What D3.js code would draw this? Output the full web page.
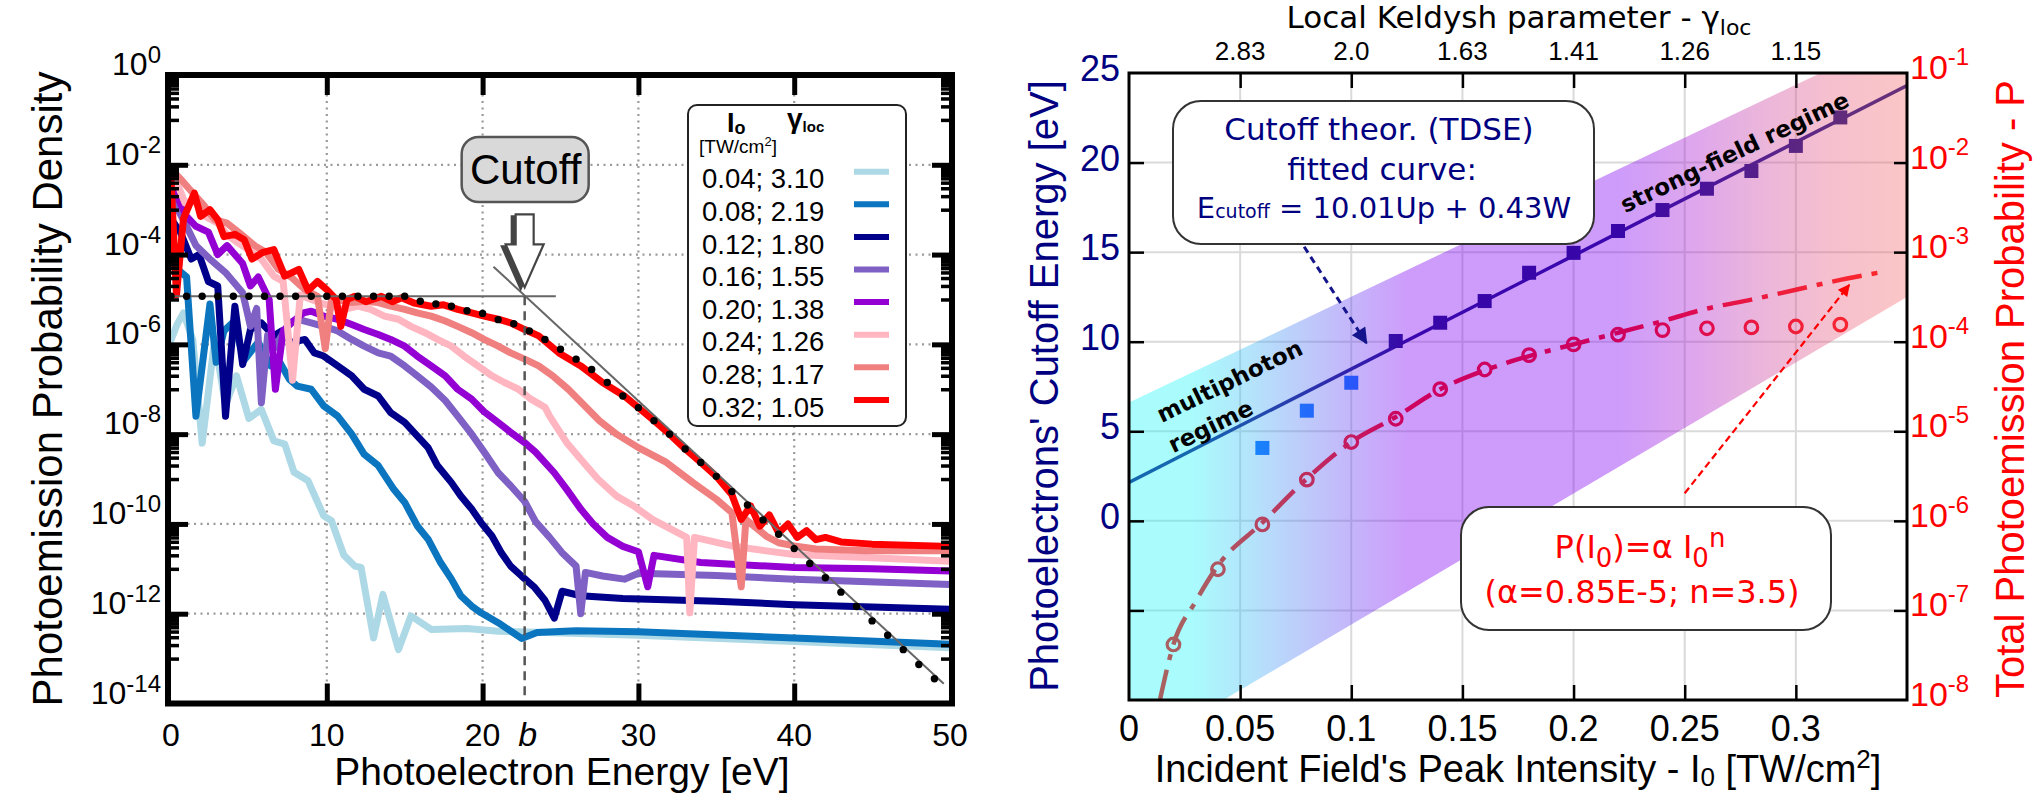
<!DOCTYPE html>
<html><head><meta charset="utf-8">
<script src="https://cdn.jsdelivr.net/npm/d3@7"></script>
<style>html,body{margin:0;padding:0;background:#fff;overflow:hidden}</style>
</head><body>
<svg id="chart" width="2036" height="795" xmlns="http://www.w3.org/2000/svg"></svg>
<script>
// ================= DATA : left panel =================
const energyTicks = [0, 10, 20, 30, 40, 50];
const densityExponents = [0, -2, -4, -6, -8, -10, -12, -14];
const legendIntensity = ["0.04", "0.08", "0.12", "0.16", "0.20", "0.24", "0.28", "0.32"];
const legendGamma = ["3.10", "2.19", "1.80", "1.55", "1.38", "1.26", "1.17", "1.05"];
// spectra : [photoelectron energy (eV), log10 probability density]
const spec004 = [[0,-5.9],[0.4,-5.55],[0.8,-5.3],[1.4,-5.9],[2.0,-8.2],[2.8,-5.9],[3.5,-7.35],[4.2,-6.7],[5.0,-7.65],[5.8,-7.45],[6.6,-8.15],[7.3,-8.22],[7.9,-8.85],[8.8,-9.04],[9.8,-9.82],[10.3,-9.93],[11.1,-10.7],[11.8,-10.94],[12.2,-10.97],[13.0,-12.54],[13.6,-11.57],[14.6,-12.8],[15.4,-12.05],[16.7,-12.35],[19,-12.33],[21,-12.39],[24,-12.42],[30,-12.48],[40,-12.62],[50,-12.76]];
const spec008 = [[0,-4.0],[0.5,-4.35],[1.0,-4.5],[1.6,-7.6],[2.5,-5.1],[2.9,-6.4],[3.4,-5.7],[4.0,-5.5],[4.7,-6.35],[5.6,-5.95],[6.4,-6.48],[7.0,-6.41],[7.6,-6.78],[8.1,-6.93],[9.0,-7.0],[9.8,-7.37],[10.7,-7.6],[11.6,-8.0],[12.4,-8.45],[13.3,-8.7],[14.3,-9.23],[15.0,-9.52],[15.8,-10.04],[16.5,-10.34],[17.3,-10.86],[18.0,-11.23],[18.6,-11.6],[19.3,-11.83],[19.9,-11.98],[21,-12.2],[22.5,-12.55],[23.5,-12.42],[26,-12.38],[30,-12.4],[40,-12.54],[50,-12.68]];
const spec012 = [[0,-3.2],[0.6,-3.5],[1.3,-4.1],[1.8,-4.0],[2.4,-4.6],[3.0,-4.7],[3.5,-7.6],[4.1,-5.15],[4.6,-6.45],[5.1,-5.67],[5.8,-5.52],[6.6,-5.81],[7.1,-5.7],[7.7,-5.96],[8.6,-5.89],[9.2,-6.19],[9.8,-6.26],[10.7,-6.48],[11.6,-6.7],[12.4,-7.0],[13.3,-7.15],[14.1,-7.52],[15,-7.74],[15.8,-8.04],[16.5,-8.3],[17.1,-8.7],[18,-9.08],[18.6,-9.38],[19.3,-9.67],[19.9,-9.97],[20.6,-10.27],[21.2,-10.64],[21.8,-10.94],[22.5,-11.16],[23.3,-11.4],[24,-11.7],[24.6,-12.1],[25.1,-11.5],[26.3,-11.6],[29,-11.66],[35,-11.72],[40,-11.8],[50,-11.9]];
const spec016 = [[0,-2.7],[0.9,-3.3],[1.6,-3.8],[2.5,-4.1],[3.5,-4.4],[4.6,-4.85],[5.1,-5.6],[5.5,-5.2],[5.8,-7.3],[6.2,-5.8],[6.6,-6.1],[7.6,-5.52],[8.1,-5.44],[9.0,-5.52],[9.8,-5.6],[10.7,-5.7],[11.6,-5.89],[12.4,-6.04],[13.3,-6.19],[14.1,-6.26],[15,-6.48],[15.8,-6.7],[16.7,-6.95],[17.6,-7.25],[18.4,-7.6],[19.3,-8.0],[20.1,-8.4],[21,-8.86],[21.8,-9.15],[22.7,-9.5],[23.4,-9.95],[24.3,-10.3],[25.1,-10.64],[26,-10.94],[26.3,-12.0],[26.6,-11.08],[27.7,-11.16],[29.1,-11.23],[30,-11.1],[35,-11.15],[40,-11.23],[50,-11.35]];
const spec020 = [[0,-2.4],[1.0,-3.15],[1.6,-3.37],[2.4,-3.5],[3.0,-4.0],[3.6,-3.8],[4.6,-4.2],[5.1,-4.7],[5.6,-4.5],[6.3,-5.0],[6.7,-7.0],[7.2,-5.7],[7.8,-5.5],[8.5,-5.3],[9.0,-5.26],[9.8,-5.37],[10.7,-5.44],[11.6,-5.56],[12.4,-5.67],[13.3,-5.78],[14.1,-5.89],[15,-6.04],[15.8,-6.26],[16.7,-6.48],[17.6,-6.7],[18.4,-7.0],[19.3,-7.22],[20.1,-7.5],[21,-7.74],[21.8,-7.96],[22.7,-8.19],[23.4,-8.4],[24.6,-8.86],[25.4,-9.23],[26.3,-9.67],[27.1,-10.0],[28,-10.3],[29,-10.5],[30,-10.62],[30.6,-11.4],[31,-10.7],[34,-10.86],[36,-10.9],[40,-10.97],[45,-11.0],[50,-11.05]];
const spec024 = [[0,-2.2],[0.5,-2.5],[0.9,-2.85],[1.5,-2.8],[2.2,-3.15],[3.0,-3.3],[3.6,-3.55],[4.3,-3.74],[5.0,-3.9],[5.8,-4.1],[6.6,-4.48],[7.2,-4.6],[7.8,-6.8],[8.3,-4.9],[9.0,-5.0],[9.8,-5.1],[10.3,-5.15],[11.1,-5.22],[12,-5.15],[12.8,-5.22],[13.7,-5.37],[14.6,-5.44],[15.4,-5.6],[16.3,-5.74],[17.1,-5.89],[18,-6.04],[18.8,-6.26],[19.7,-6.48],[20.6,-6.7],[21.4,-6.85],[22.3,-7.0],[23.1,-7.22],[24,-7.4],[24.3,-7.6],[25.4,-8.19],[26.3,-8.56],[27.4,-9.0],[28.6,-9.38],[29.7,-9.6],[30.9,-9.9],[32,-10.1],[33.1,-10.3],[33.3,-11.98],[33.6,-10.3],[36,-10.49],[38.2,-10.6],[40,-10.68],[44.6,-10.75],[50,-10.83]];
const spec028 = [[0,-2.1],[0.7,-2.35],[1.4,-2.63],[2.1,-2.9],[2.8,-3.22],[3.6,-3.3],[4.4,-3.52],[5.4,-3.81],[6.1,-3.95],[6.9,-4.33],[7.7,-4.5],[8.6,-4.78],[9.4,-4.93],[9.9,-6.1],[10.3,-5.0],[10.7,-5.0],[11.6,-5.07],[12.4,-5.04],[13.3,-5.07],[14.1,-5.15],[15,-5.22],[15.8,-5.3],[16.7,-5.37],[17.6,-5.48],[18.4,-5.6],[19.3,-5.74],[20.1,-5.89],[21,-6.04],[21.8,-6.19],[22.7,-6.33],[23.6,-6.48],[24.5,-6.7],[25.5,-7.0],[26.5,-7.35],[27.5,-7.7],[28.6,-8.0],[30,-8.3],[31.8,-8.63],[33.5,-9.08],[35,-9.45],[36,-9.75],[36.6,-11.4],[36.9,-9.9],[38.2,-10.27],[39,-10.42],[40,-10.49],[41.4,-10.56],[44.6,-10.6],[50,-10.6]];
const spec032 = [[0,-2.3],[0.35,-4.9],[0.8,-3.2],[1.5,-2.63],[1.9,-3.15],[2.5,-3.0],[3.0,-3.22],[3.4,-3.6],[4.1,-3.55],[4.7,-3.67],[5.2,-4.1],[5.9,-3.95],[6.6,-3.89],[7.3,-4.48],[8.2,-4.33],[8.8,-4.8],[9.4,-4.6],[10.0,-4.78],[10.6,-5.0],[10.9,-5.6],[11.3,-5.0],[11.8,-4.93],[12.5,-5.05],[13.5,-4.93],[14.2,-5.05],[14.8,-4.96],[15.6,-5.08],[16.7,-5.15],[17.5,-5.12],[18.4,-5.22],[19.3,-5.3],[20.1,-5.37],[21,-5.44],[21.8,-5.52],[22.7,-5.67],[23.6,-5.81],[24.9,-6.19],[26.3,-6.48],[27.7,-6.85],[29.1,-7.15],[30,-7.41],[31,-7.7],[32,-8.0],[33,-8.33],[34,-8.63],[35,-8.94],[36,-9.35],[36.6,-9.9],[37.2,-9.6],[37.8,-10.05],[38.4,-9.8],[39,-10.2],[39.6,-10.0],[40.2,-10.3],[40.8,-10.15],[41.4,-10.35],[42,-10.3],[43,-10.4],[45,-10.45],[50,-10.5]];
const spectra = [spec004, spec008, spec012, spec016, spec020, spec024, spec028, spec032];
// black dotted fit
const cutoffDotsE = [0,1,2,3,4,5,6,7,8,9,10,11,12,13,14,15,16,17,18,19,20,21,22,23,24,25,26,27,28,29,30,31,32,33,34,35,36,37,38,39,40,41,42,43,44,45,46,47,48,49];
const cutoffDotsLog = [-4.93,-4.93,-4.93,-4.93,-4.93,-4.93,-4.93,-4.93,-4.93,-4.93,-4.93,-4.93,-4.93,-4.93,-4.93,-4.93,-5.04,-5.1,-5.15,-5.25,-5.31,-5.45,-5.54,-5.7,-5.89,-6.11,-6.33,-6.56,-6.85,-7.15,-7.41,-7.7,-8.0,-8.33,-8.63,-8.94,-9.28,-9.58,-9.91,-10.23,-10.55,-10.88,-11.2,-11.52,-11.84,-12.16,-12.48,-12.8,-13.13,-13.45];
const plateauE = [0, 24.7], plateauLog = [-4.93, -4.93];
const slopeE = [20.7, 49.6], slopeLog = [-4.27, -13.56];
const cutoffB = 22.7;

// ================= DATA : right panel =================
const intensityTicks = [0, 0.05, 0.1, 0.15, 0.2, 0.25, 0.3];
const intensityLabels = ["0", "0.05", "0.1", "0.15", "0.2", "0.25", "0.3"];
const keldyshTicks = [0.05, 0.1, 0.15, 0.2, 0.25, 0.3];
const keldyshLabels = ["2.83", "2.0", "1.63", "1.41", "1.26", "1.15"];
const cutoffEnergyTicks = [25, 20, 15, 10, 5, 0];
const probabilityExponents = [-1, -2, -3, -4, -5, -6, -7, -8];
const tdseI = [0.12, 0.14, 0.16, 0.18, 0.20, 0.22, 0.24, 0.26, 0.28, 0.30, 0.32];
const tdseE = [10.04, 11.06, 12.27, 13.85, 14.96, 16.18, 17.35, 18.54, 19.53, 20.93, 22.52];
const earlyI = [0.06, 0.08, 0.10];
const earlyE = [4.07, 6.15, 7.71];
const fitLineI = [0, 0.35], fitLineE = [2.15, 24.3];
const probI = [0.02, 0.04, 0.06, 0.08, 0.10, 0.12, 0.14, 0.16, 0.18, 0.20, 0.22, 0.24, 0.26, 0.28, 0.30, 0.32];
const probLog = [-7.38, -6.54, -6.04, -5.54, -5.12, -4.86, -4.53, -4.31, -4.15, -4.03, -3.92, -3.87, -3.85, -3.84, -3.83, -3.81];
const probFitI = [0.014, 0.02, 0.03, 0.04, 0.06, 0.08, 0.10, 0.12, 0.14, 0.16, 0.18, 0.20, 0.22, 0.24, 0.26, 0.28, 0.30, 0.32, 0.337];
const probFitLog = [-7.99, -7.38, -6.9, -6.5, -6.02, -5.53, -5.12, -4.84, -4.53, -4.32, -4.16, -4.03, -3.9, -3.77, -3.63, -3.53, -3.42, -3.31, -3.23];
const bandI = [0, 0.35], bandUpperE = [6.6, 27.3], bandLowerE = [-13.1, 12.5];
const cutoffArrowI = [0.0788, 0.1068], cutoffArrowE = [15.3, 9.93];
const probArrowI = [0.25, 0.324], probArrowE = [1.54, 13.17];

// ================= STYLE =================
const specColors = ["#add8e6", "#0b76bf", "#00008b", "#7f60c4", "#9400d3", "#ffb6c1", "#f08080", "#ff0000"];
const FA = "'Liberation Sans', Arial, sans-serif";
const FD = "'DejaVu Sans', sans-serif";
const NAVY = "#000080", RED = "#ff0000";

const svg = d3.select("#chart");
const defs = svg.append("defs");

function supText(parent, x, y, base, sup, o) {
  const t = parent.append("text").attr("x", x).attr("y", y)
    .attr("font-family", o.font || FA).attr("font-size", o.size)
    .attr("fill", o.color || "#000").attr("text-anchor", o.anchor || "start");
  t.append("tspan").text(base);
  t.append("tspan").attr("dy", -o.raise).attr("font-size", o.supSize).text(sup);
  return t;
}

// ================= LEFT PANEL =================
const xL = d3.scaleLinear().domain([0, 50]).range([171, 950]);
const yL = d3.scaleLog().domain([1e-14, 1]).range([703.5, 75]);
const p10 = v => Math.pow(10, v);
const gL = svg.append("g");
defs.append("clipPath").attr("id", "clipL").append("rect")
  .attr("x", 168).attr("y", 75).attr("width", 784).attr("height", 628.5);

gL.selectAll("line.gx").data([10, 20, 30, 40]).join("line").attr("class", "gx")
  .attr("x1", d => xL(d)).attr("x2", d => xL(d)).attr("y1", 75).attr("y2", 703.5)
  .attr("stroke", "#9a9a9a").attr("stroke-width", 2.2).attr("stroke-dasharray", "2,4.5");
gL.selectAll("line.gy").data([-2, -4, -6, -8, -10, -12]).join("line").attr("class", "gy")
  .attr("x1", 168).attr("x2", 952).attr("y1", d => yL(p10(d))).attr("y2", d => yL(p10(d)))
  .attr("stroke", "#9a9a9a").attr("stroke-width", 2.2).attr("stroke-dasharray", "2,4.5");

const lineL = d3.line().x(d => xL(d[0])).y(d => yL(p10(d[1])));
const gCurves = gL.append("g").attr("clip-path", "url(#clipL)");
spectra.forEach((s, i) => {
  gCurves.append("path").attr("d", lineL(s)).attr("fill", "none")
    .attr("stroke", specColors[i]).attr("stroke-width", 7)
    .attr("stroke-linejoin", "round").attr("stroke-linecap", "round");
});

gL.append("path").attr("d", lineL(d3.zip(plateauE, plateauLog)))
  .attr("stroke", "#666").attr("stroke-width", 2).attr("fill", "none");
gL.append("path").attr("d", lineL(d3.zip(slopeE, slopeLog)))
  .attr("stroke", "#666").attr("stroke-width", 2).attr("fill", "none");
gL.append("line").attr("x1", xL(cutoffB)).attr("x2", xL(cutoffB))
  .attr("y1", yL(p10(plateauLog[0]))).attr("y2", 703.5)
  .attr("stroke", "#555").attr("stroke-width", 2.5).attr("stroke-dasharray", "9,6");
gL.selectAll("circle.dot").data(d3.zip(cutoffDotsE, cutoffDotsLog)).join("circle").attr("class", "dot")
  .attr("cx", d => xL(d[0])).attr("cy", d => yL(p10(d[1]))).attr("r", 3.7).attr("fill", "#000");

gL.append("rect").attr("x", 168).attr("y", 75).attr("width", 784).attr("height", 628.5)
  .attr("fill", "none").attr("stroke", "#000").attr("stroke-width", 6);

function styleAxis(g, w) {
  g.select(".domain").remove();
  g.selectAll(".tick line").attr("stroke", "#000").attr("stroke-width", w);
  g.selectAll(".tick text").remove();
}
const minorVals = [];
[-14, -12, -10, -8, -6, -4, -2].forEach(e => { for (let k = 1; k <= 9; k++) minorVals.push(k * p10(e + 1)); });
const majorVals = densityExponents.slice(1, -1).map(p10);
gL.append("g").attr("transform", "translate(0,703.5)")
  .call(d3.axisBottom(xL).tickValues([10, 20, 30, 40]).tickSize(-20).tickFormat("")).call(g => styleAxis(g, 5));
gL.append("g").attr("transform", "translate(0,75)")
  .call(d3.axisTop(xL).tickValues([10, 20, 30, 40]).tickSize(-20).tickFormat("")).call(g => styleAxis(g, 5));
gL.append("g").attr("transform", "translate(168,0)")
  .call(d3.axisLeft(yL).tickValues(majorVals).tickSize(-20).tickFormat("")).call(g => styleAxis(g, 5));
gL.append("g").attr("transform", "translate(168,0)")
  .call(d3.axisLeft(yL).tickValues(minorVals).tickSize(-11).tickFormat("")).call(g => styleAxis(g, 3.5));
gL.append("g").attr("transform", "translate(952,0)")
  .call(d3.axisRight(yL).tickValues(majorVals).tickSize(-20).tickFormat("")).call(g => styleAxis(g, 5));
gL.append("g").attr("transform", "translate(952,0)")
  .call(d3.axisRight(yL).tickValues(minorVals).tickSize(-11).tickFormat("")).call(g => styleAxis(g, 3.5));

densityExponents.forEach(e => {
  supText(gL, 161, yL(p10(e)), "10", String(e), { size: 32, supSize: 24, raise: 12, anchor: "end" });
});
energyTicks.forEach(v => {
  gL.append("text").attr("x", xL(v)).attr("y", 746).attr("text-anchor", "middle")
    .attr("font-family", FA).attr("font-size", 32).text(v);
});
gL.append("text").attr("x", xL(cutoffB) + 3).attr("y", 746).attr("text-anchor", "middle")
  .attr("font-family", FA).attr("font-size", 34).attr("font-style", "italic").text("b");
gL.append("text").attr("x", 562).attr("y", 785).attr("text-anchor", "middle")
  .attr("font-family", FA).attr("font-size", 39).text("Photoelectron Energy [eV]");
gL.append("text").attr("transform", "translate(62,389) rotate(-90)").attr("text-anchor", "middle")
  .attr("font-family", FA).attr("font-size", 42).text("Photoemission Probability Density");

// legend
const lg = gL.append("g");
lg.append("rect").attr("x", 688).attr("y", 105).attr("width", 218).attr("height", 321).attr("rx", 9)
  .attr("fill", "#fff").attr("stroke", "#222").attr("stroke-width", 2);
const t1 = lg.append("text").attr("x", 727).attr("y", 132).attr("font-family", FA).attr("font-weight", "bold").attr("font-size", 27);
t1.append("tspan").text("I");
t1.append("tspan").attr("font-size", 18).attr("dy", 2).text("o");
const t2 = lg.append("text").attr("x", 787).attr("y", 128).attr("font-family", FA).attr("font-weight", "bold").attr("font-size", 28);
t2.append("tspan").text("γ");
t2.append("tspan").attr("font-size", 15).attr("dy", 4).text("loc");
const t3 = lg.append("text").attr("x", 699).attr("y", 153).attr("font-family", FA).attr("font-size", 19);
t3.append("tspan").text("[TW/cm");
t3.append("tspan").attr("font-size", 13).attr("dy", -7).text("2");
t3.append("tspan").attr("dy", 7).text("]");
legendIntensity.forEach((lab, i) => {
  lg.append("text").attr("x", 702).attr("y", 188.3 + 32.6 * i).attr("font-family", FA).attr("font-size", 27.5)
    .text(lab + "; " + legendGamma[i]);
  lg.append("line").attr("x1", 854).attr("x2", 889).attr("y1", 171.7 + 32.6 * i).attr("y2", 171.7 + 32.6 * i)
    .attr("stroke", specColors[i]).attr("stroke-width", 6);
});

// Cutoff label + arrow
const bx = xL(cutoffB);
gL.append("rect").attr("x", bx - 63).attr("y", 137).attr("width", 127).attr("height", 65).attr("rx", 17)
  .attr("fill", "#d9d9d9").attr("stroke", "#555").attr("stroke-width", 2.5);
gL.append("text").attr("x", bx + 1).attr("y", 184).attr("text-anchor", "middle")
  .attr("font-family", FA).attr("font-size", 42).text("Cutoff");
const tipY = yL(p10(plateauLog[0])) - 9;
const arrowPts = [[0, 0], [-19, -43], [-9, -43], [-9, -73], [9, -73], [9, -43], [19, -43]];
gL.append("polygon").attr("points", arrowPts.map(p => [bx + p[0] - 4, tipY + p[1] + 2].join(",")).join(" "))
  .attr("fill", "#444").attr("stroke", "#444").attr("stroke-width", 2);
gL.append("polygon").attr("points", arrowPts.map(p => [bx + p[0], tipY + p[1]].join(",")).join(" "))
  .attr("fill", "#fff").attr("stroke", "#444").attr("stroke-width", 2.2);

// ================= RIGHT PANEL =================
const RX0 = 1129, RX1 = 1907;
const xR = d3.scaleLinear().domain([0, 0.35]).range([RX0, RX1]);
const yE = d3.scaleLinear().domain([-10, 25]).range([700, 73]);
const yP = d3.scaleLog().domain([1e-8, 1e-1]).range([700, 73]);
const gR = svg.append("g");
defs.append("clipPath").attr("id", "clipR").append("rect")
  .attr("x", RX0).attr("y", 73).attr("width", RX1 - RX0).attr("height", 627);

gR.selectAll("line.rgx").data(keldyshTicks).join("line").attr("class", "rgx")
  .attr("x1", d => xR(d)).attr("x2", d => xR(d)).attr("y1", 73).attr("y2", 700)
  .attr("stroke", "#dadada").attr("stroke-width", 2);
gR.selectAll("line.rgy").data([20, 15, 10, 5, 0, -5]).join("line").attr("class", "rgy")
  .attr("x1", RX0).attr("x2", RX1).attr("y1", d => yE(d)).attr("y2", d => yE(d))
  .attr("stroke", "#dadada").attr("stroke-width", 2);

const gData = gR.append("g").attr("clip-path", "url(#clipR)");
const lineE = d3.line().x(d => xR(d[0])).y(d => yE(d[1]));
gData.append("path").attr("d", lineE(d3.zip(fitLineI, fitLineE))).attr("fill", "none")
  .attr("stroke", "#0c0c80").attr("stroke-width", 3.5);
gData.selectAll("rect.sq").data(d3.zip(tdseI, tdseE)).join("rect").attr("class", "sq")
  .attr("x", d => xR(d[0]) - 7).attr("y", d => yE(d[1]) - 7).attr("width", 14).attr("height", 14)
  .attr("fill", "#0a0a78");
gData.selectAll("rect.bsq").data(d3.zip(earlyI, earlyE)).join("rect").attr("class", "bsq")
  .attr("x", d => xR(d[0]) - 7).attr("y", d => yE(d[1]) - 7).attr("width", 14).attr("height", 14)
  .attr("fill", "#0064ff");
const lineP = d3.line().curve(d3.curveMonotoneX).x(d => xR(d[0])).y(d => yP(p10(d[1])));
gData.append("path").attr("d", lineP(d3.zip(probFitI, probFitLog))).attr("fill", "none")
  .attr("stroke", RED).attr("stroke-width", 4.5).attr("stroke-dasharray", "30,10,6,10");
gData.selectAll("circle.pc").data(d3.zip(probI, probLog)).join("circle").attr("class", "pc")
  .attr("cx", d => xR(d[0])).attr("cy", d => yP(p10(d[1]))).attr("r", 6.3)
  .attr("fill", "none").attr("stroke", RED).attr("stroke-width", 3.2);

defs.append("marker").attr("id", "mNavy").attr("viewBox", "0 0 10 10").attr("refX", 9).attr("refY", 5)
  .attr("markerWidth", 20).attr("markerHeight", 16).attr("markerUnits", "userSpaceOnUse")
  .attr("orient", "auto").append("path").attr("d", "M0,0 L10,5 L0,10 Z").attr("fill", "#14148c");
defs.append("marker").attr("id", "mRed").attr("viewBox", "0 0 10 10").attr("refX", 9).attr("refY", 5)
  .attr("markerWidth", 16).attr("markerHeight", 12).attr("markerUnits", "userSpaceOnUse")
  .attr("orient", "auto").append("path").attr("d", "M0,0 L10,5 L0,10 Z").attr("fill", RED);
gR.append("line").attr("x1", xR(cutoffArrowI[0])).attr("y1", yE(cutoffArrowE[0]))
  .attr("x2", xR(cutoffArrowI[1])).attr("y2", yE(cutoffArrowE[1]))
  .attr("stroke", "#14148c").attr("stroke-width", 3).attr("stroke-dasharray", "7,5").attr("marker-end", "url(#mNavy)");
gR.append("line").attr("x1", xR(probArrowI[0])).attr("y1", yE(probArrowE[0]))
  .attr("x2", xR(probArrowI[1])).attr("y2", yE(probArrowE[1]))
  .attr("stroke", RED).attr("stroke-width", 2.2).attr("stroke-dasharray", "7,4").attr("marker-end", "url(#mRed)");

// regime band
const grad = defs.append("linearGradient").attr("id", "bandGrad").attr("gradientUnits", "userSpaceOnUse")
  .attr("x1", RX0).attr("x2", RX1).attr("y1", 0).attr("y2", 0);
[[0, "#23f6f9"], [0.08, "#23f6f9"], [0.15, "#3cbef6"], [0.22, "#567ef3"], [0.29, "#6a3ff3"], [0.36, "#8000f4"],
 [0.63, "#8000f4"], [0.73, "#ac1dcf"], [0.805, "#c83fa6"], [0.895, "#e55c84"], [1, "#f66d6d"]]
  .forEach(s => grad.append("stop").attr("offset", s[0]).attr("stop-color", s[1]));
const bandPts = [[bandI[0], bandUpperE[0]], [bandI[1], bandUpperE[1]], [bandI[1], bandLowerE[1]], [bandI[0], bandLowerE[0]]];
gData.append("polygon").attr("points", bandPts.map(p => [xR(p[0]), yE(p[1])].join(",")).join(" "))
  .attr("fill", "url(#bandGrad)").attr("opacity", 0.39);

function rotLabel(x, y, ang, txt) {
  gR.append("text").attr("transform", `translate(${x},${y}) rotate(${ang})`).attr("y", 7)
    .attr("text-anchor", "middle").attr("font-family", FD).attr("font-weight", "bold")
    .attr("font-size", 23).attr("fill", "#000").text(txt);
}
rotLabel(1230, 382, -26, "multiphoton");
rotLabel(1211, 427, -26, "regime");
rotLabel(1735, 153, -25.5, "strong-field regime");

// annotation box 1
gR.append("rect").attr("x", 1173).attr("y", 101).attr("width", 421).attr("height", 143).attr("rx", 28)
  .attr("fill", "#fff").attr("stroke", "#333").attr("stroke-width", 2);
gR.append("text").attr("x", 1379).attr("y", 140).attr("text-anchor", "middle").attr("font-family", FD)
  .attr("font-size", 31).attr("fill", NAVY).text("Cutoff theor. (TDSE)");
gR.append("text").attr("x", 1382).attr("y", 180).attr("text-anchor", "middle").attr("font-family", FD)
  .attr("font-size", 31).attr("fill", NAVY).text("fitted curve:");
const l3 = gR.append("text").attr("x", 1384).attr("y", 218).attr("text-anchor", "middle").attr("font-family", FD)
  .attr("font-size", 29).attr("fill", NAVY);
l3.append("tspan").text("E");
l3.append("tspan").attr("font-size", 19).text("cutoff");
l3.append("tspan").text(" = 10.01Up + 0.43W");

// annotation box 2
gR.append("rect").attr("x", 1461).attr("y", 507).attr("width", 370).attr("height", 123).attr("rx", 28)
  .attr("fill", "#fff").attr("stroke", "#333").attr("stroke-width", 2);
const b1 = gR.append("text").attr("x", 1640).attr("y", 558).attr("text-anchor", "middle").attr("font-family", FD)
  .attr("font-size", 32).attr("fill", RED);
b1.append("tspan").text("P(I");
b1.append("tspan").attr("font-size", 26).attr("dy", 9).text("0");
b1.append("tspan").attr("dy", -9).text(")=α I");
b1.append("tspan").attr("font-size", 26).attr("dy", 9).text("0");
b1.append("tspan").attr("font-size", 26).attr("dy", -20).text("n");
gR.append("text").attr("x", 1642).attr("y", 603).attr("text-anchor", "middle").attr("font-family", FD)
  .attr("font-size", 32).attr("fill", RED).text("(α=0.85E-5; n=3.5)");

// frame + ticks
gR.append("rect").attr("x", RX0).attr("y", 73).attr("width", RX1 - RX0).attr("height", 627)
  .attr("fill", "none").attr("stroke", "#000").attr("stroke-width", 3);
function styleR(g, w) {
  g.select(".domain").remove();
  g.selectAll(".tick line").attr("stroke", "#000").attr("stroke-width", w);
  g.selectAll(".tick text").remove();
}
gR.append("g").attr("transform", "translate(0,700)")
  .call(d3.axisBottom(xR).tickValues(keldyshTicks).tickSize(-15).tickFormat("")).call(g => styleR(g, 2.5));
gR.append("g").attr("transform", "translate(0,73)")
  .call(d3.axisTop(xR).tickValues(keldyshTicks).tickSize(-15).tickFormat("")).call(g => styleR(g, 2.5));
gR.append("g").attr("transform", `translate(${RX0},0)`)
  .call(d3.axisLeft(yE).tickValues([20, 15, 10, 5, 0, -5]).tickSize(-15).tickFormat("")).call(g => styleR(g, 2.5));
gR.append("g").attr("transform", `translate(${RX1},0)`)
  .call(d3.axisRight(yP).tickValues([1e-2, 1e-3, 1e-4, 1e-5, 1e-6, 1e-7]).tickSize(-13).tickFormat("")).call(g => styleR(g, 2.5));

intensityTicks.forEach((v, i) => {
  gR.append("text").attr("x", xR(v)).attr("y", 741).attr("text-anchor", "middle")
    .attr("font-family", FA).attr("font-size", 36).text(intensityLabels[i]);
});
keldyshTicks.forEach((v, i) => {
  gR.append("text").attr("x", xR(v)).attr("y", 60).attr("text-anchor", "middle")
    .attr("font-family", FA).attr("font-size", 26).text(keldyshLabels[i]);
});
cutoffEnergyTicks.forEach(v => {
  gR.append("text").attr("x", 1120).attr("y", yE(v) + 8).attr("text-anchor", "end")
    .attr("font-family", FA).attr("font-size", 36).attr("fill", NAVY).text(v);
});
probabilityExponents.forEach(e => {
  supText(gR, RX1 + 3, yP(p10(e)) + 6, "10", String(e), { size: 34, supSize: 24, raise: 14, color: RED });
});
const tt = gR.append("text").attr("x", 1519).attr("y", 28).attr("text-anchor", "middle")
  .attr("font-family", FD).attr("font-size", 31);
tt.append("tspan").text("Local Keldysh parameter - γ");
tt.append("tspan").attr("font-size", 22).attr("dy", 7).text("loc");
const bt = gR.append("text").attr("x", 1518).attr("y", 782).attr("text-anchor", "middle")
  .attr("font-family", FA).attr("font-size", 38);
bt.append("tspan").text("Incident Field's Peak Intensity - I");
bt.append("tspan").attr("font-size", 26).attr("dy", 4).text("0");
bt.append("tspan").attr("dy", -4).text(" [TW/cm");
bt.append("tspan").attr("font-size", 26).attr("dy", -14).text("2");
bt.append("tspan").attr("dy", 14).text("]");
gR.append("text").attr("transform", "translate(1058,386) rotate(-90)").attr("text-anchor", "middle")
  .attr("font-family", FA).attr("font-size", 40).attr("fill", NAVY).text("Photoelectrons' Cutoff Energy [eV]");
gR.append("text").attr("transform", "translate(2024,389) rotate(-90)").attr("text-anchor", "middle")
  .attr("font-family", FA).attr("font-size", 40).attr("fill", RED).text("Total Photoemission Probability - P");
</script>
</body></html>
